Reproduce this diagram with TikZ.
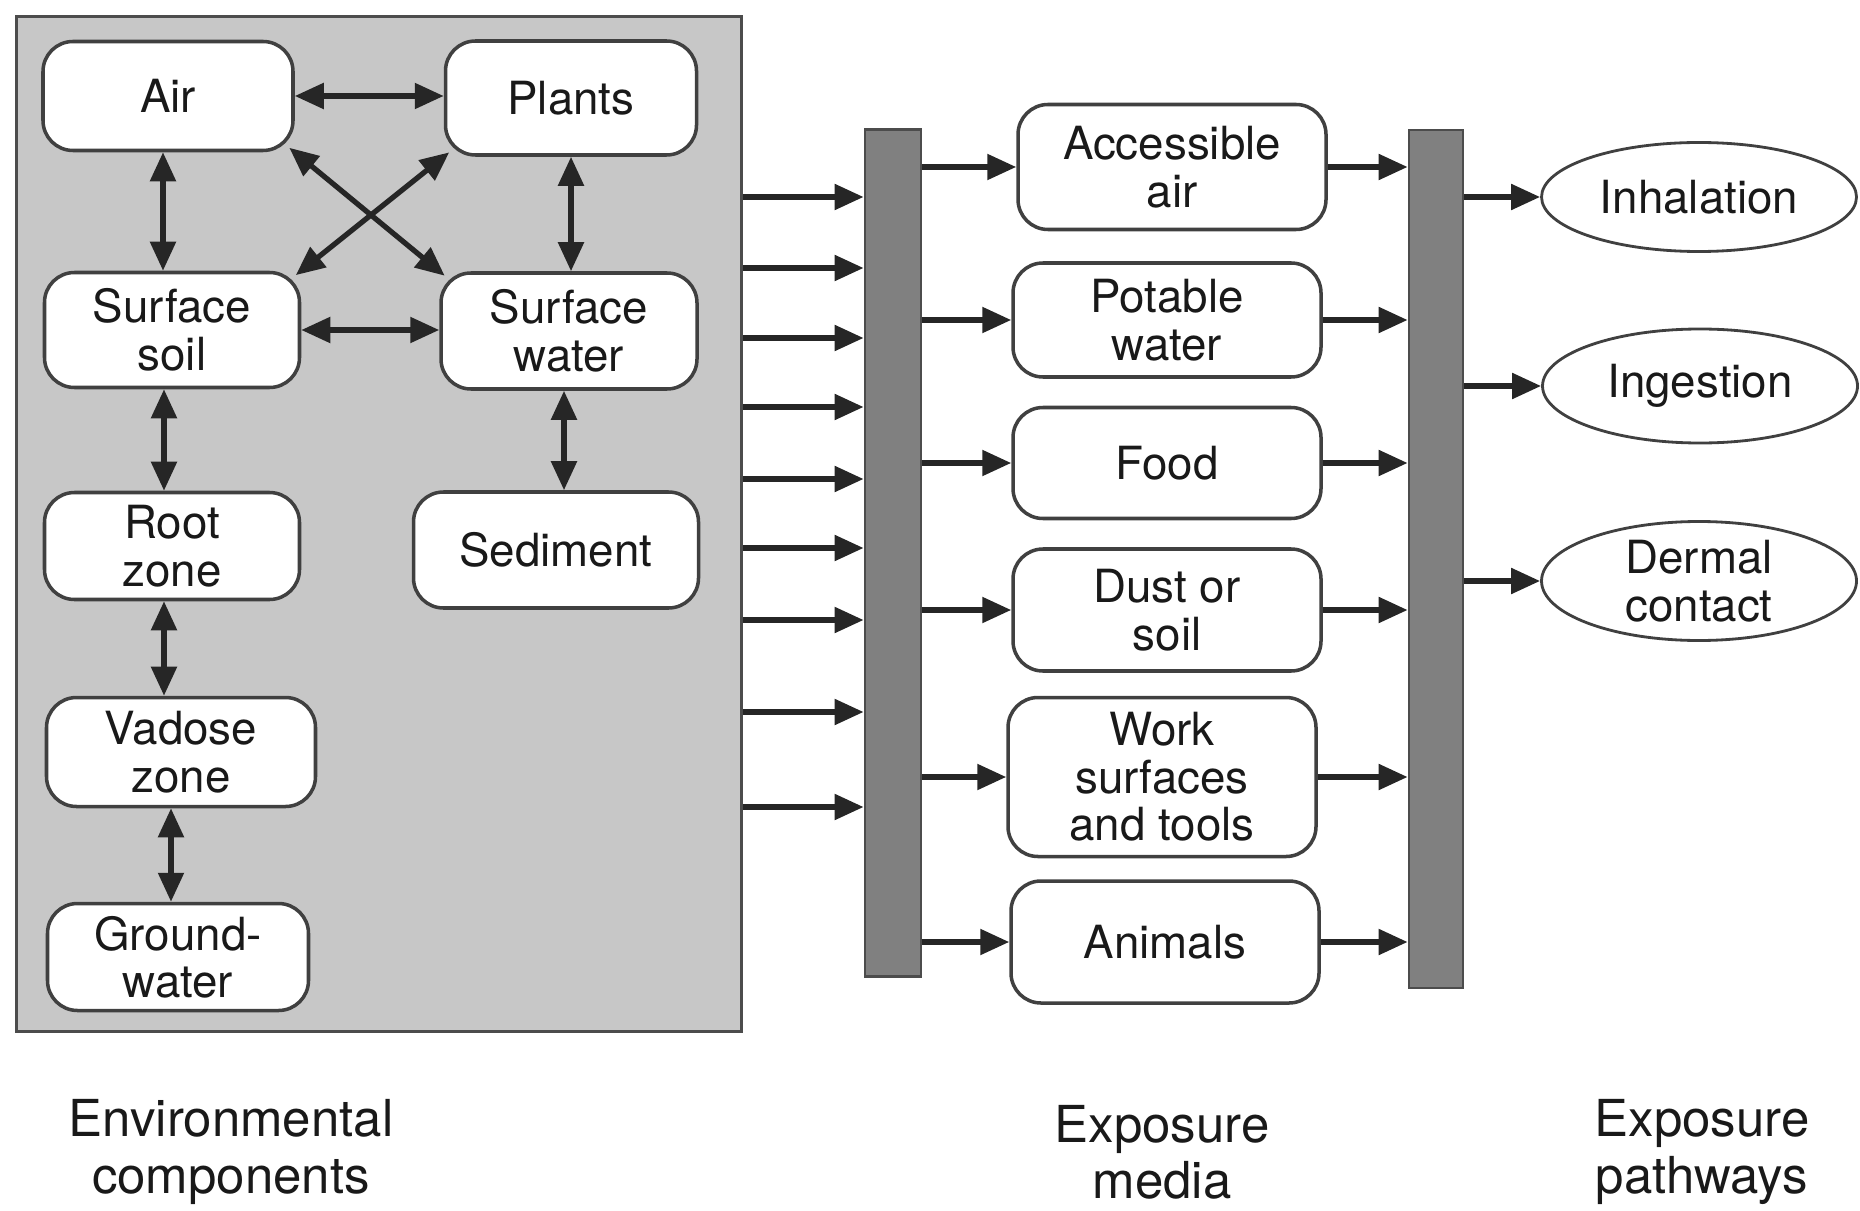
\documentclass[tikz,border=0pt]{standalone}
\usepackage{fontspec}
\setmainfont{TeX Gyre Heros}
\usetikzlibrary{arrows.meta,shapes.geometric}
\begin{document}
\begin{tikzpicture}[
    box/.style={rectangle,rounded corners=0.3cm,draw=black!75,fill=white,line width=1pt,
      align=center,inner sep=0pt,text=black!90,font=\fontsize{13}{13.5}\selectfont},
    medium/.style={box,minimum width=3.08cm},
    pathway/.style={ellipse,draw=black!75,fill=white,line width=0.8pt,inner sep=0pt,
      minimum width=3.15cm,align=center,text=black!90,font=\fontsize{13}{13.5}\selectfont},
    bar/.style={rectangle,draw=black!70,fill=black!50,line width=0.8pt,inner sep=0pt},
    arr/.style={line width=1.5pt,black!85,-{Triangle[length=2.9mm,width=2.5mm]}},
    both/.style={line width=1.5pt,black!85,{Triangle[length=2.9mm,width=2.5mm]}-{Triangle[length=2.9mm,width=2.5mm]}},
    caption/.style={align=center,text=black!90,font=\fontsize{14.5}{16}\selectfont}]

    \useasboundingbox (0,0) rectangle (18.6,-12.1);

    % environmental components
    \node[rectangle,draw=black!70,fill=black!22,line width=1pt,minimum width=7.25cm,
      minimum height=10.15cm] (env) at (3.79,-5.24) {};

    \node[box,minimum width=2.50cm,minimum height=1.09cm] (air)    at (1.68,-0.96) {Air};
    \node[box,minimum width=2.51cm,minimum height=1.14cm] (plants) at (5.71,-0.98) {Plants};
    \node[box,minimum width=2.55cm,minimum height=1.15cm] (soil)   at (1.72,-3.30) {Surface\\soil};
    \node[box,minimum width=2.56cm,minimum height=1.16cm] (water)  at (5.69,-3.31) {Surface\\water};
    \node[box,minimum width=2.55cm,minimum height=1.07cm] (root)   at (1.72,-5.46) {Root\\zone};
    \node[box,minimum width=2.85cm,minimum height=1.16cm] (sed)    at (5.56,-5.50) {Sediment};
    \node[box,minimum width=2.69cm,minimum height=1.09cm] (vadose) at (1.81,-7.52) {Vadose\\zone};
    \node[box,minimum width=2.61cm,minimum height=1.07cm] (ground) at (1.78,-9.57) {Ground-\\water};

    \draw[both] (air.east) -- (air.east -| plants.west);
    \draw[both] (soil.east) -- (soil.east -| water.west);
    \draw[both] ([xshift=-0.05cm]air.south) -- ([xshift=-0.05cm]air.south |- soil.north);
    \draw[both] (plants.south) -- (plants.south |- water.north);
    \draw[both,shorten <=-2pt,shorten >=-2pt] (air.south east) -- (water.north west);
    \draw[both,shorten <=-2pt,shorten >=-2pt] (plants.south west) -- (soil.north east);
    \draw[both] ([xshift=-0.08cm]soil.south) -- ([xshift=-0.08cm]soil.south |- root.north);
    \draw[both] ([xshift=-0.05cm]water.south) -- ([xshift=-0.05cm]water.south |- sed.north);
    \draw[both] ([xshift=-0.08cm]root.south) -- ([xshift=-0.08cm]root.south |- vadose.north);
    \draw[both] ([xshift=-0.1cm]vadose.south) -- ([xshift=-0.1cm]vadose.south |- ground.north);

    % bars
    \node[bar,minimum width=0.56cm,minimum height=8.47cm] (lbar) at (8.93,-5.53) {};
    \node[bar,minimum width=0.54cm,minimum height=8.58cm] (rbar) at (14.36,-5.59) {};

    \foreach \y in {-1.97,-2.68,-3.38,-4.07,-4.79,-5.48,-6.20,-7.12,-8.07}
        \draw[arr] (env.east |- 0,\y) -- (lbar.west |- 0,\y);

    % exposure media
    \node[medium,minimum height=1.25cm] (acc)  at (11.72,-1.67) {Accessible\\air};
    \node[medium,minimum height=1.14cm] (pot)  at (11.67,-3.20) {Potable\\water};
    \node[medium,minimum height=1.11cm] (food) at (11.67,-4.63) {Food};
    \node[medium,minimum height=1.22cm] (dust) at (11.67,-6.10) {Dust or\\soil};
    \node[medium,minimum height=1.59cm] (work) at (11.62,-7.77) {Work\\surfaces\\and tools};
    \node[medium,minimum height=1.22cm] (anim) at (11.65,-9.42) {Animals};

    \foreach \n in {acc,pot,food,dust,work,anim} {
        \draw[arr] (\n.west -| lbar.east) -- (\n.west);
        \draw[arr] (\n.east) -- (\n.east -| rbar.west);
    }

    % exposure pathways
    \node[pathway,minimum height=1.09cm] (inh)  at (16.99,-1.97) {Inhalation};
    \node[pathway,minimum height=1.14cm] (ing)  at (17.00,-3.86) {Ingestion};
    \node[pathway,minimum height=1.19cm] (derm) at (16.99,-5.81) {Dermal\\contact};

    \foreach \n in {inh,ing,derm}
        \draw[arr] (\n.west -| rbar.east) -- (\n.west);

    % captions
    \node[caption] (capenv) at (2.31,-11.52) {Environmental\\components};
    \node[caption] (capmed) at (11.62,-11.52) {Exposure\\media};
    \node[caption] (cappath) at (17.02,-11.52) {Exposure\\pathways};
\end{tikzpicture}
\end{document}
